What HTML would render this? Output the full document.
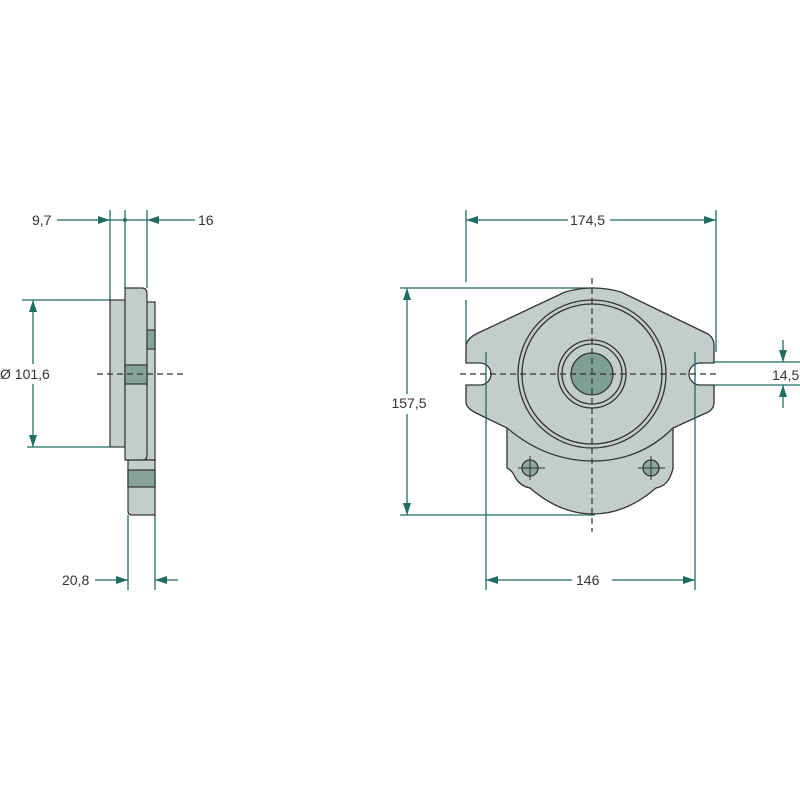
<!DOCTYPE html>
<html><head><meta charset="utf-8"><style>
html,body{margin:0;padding:0;background:#fff;}
svg{display:block;}
text{font-family:"Liberation Sans",sans-serif;font-size:14px;fill:#333;}
</style></head><body>
<svg width="800" height="800" viewBox="0 0 800 800" xmlns="http://www.w3.org/2000/svg">
<defs>
<marker id="a" markerWidth="12" markerHeight="8" refX="12" refY="4" orient="auto" markerUnits="userSpaceOnUse">
<path d="M0,0 L12,4 L0,8 Z" fill="#1f6e63"/></marker>
</defs>
<g stroke="#1f6e63" stroke-width="1.3" fill="none">
<line x1="110" y1="210" x2="110" y2="300"/>
<line x1="125" y1="210" x2="125" y2="288"/>
<line x1="147" y1="210" x2="147" y2="288"/>
<line x1="57" y1="220" x2="110" y2="220" marker-end="url(#a)"/>
<line x1="110" y1="220" x2="147" y2="220"/>
<line x1="195" y1="220" x2="147" y2="220" marker-end="url(#a)"/>
<line x1="22" y1="300" x2="110" y2="300"/>
<line x1="27" y1="447" x2="110" y2="447"/>
<line x1="33" y1="374" x2="33" y2="300" marker-end="url(#a)"/>
<line x1="33" y1="374" x2="33" y2="447" marker-end="url(#a)"/>
<line x1="128" y1="515" x2="128" y2="590"/>
<line x1="155" y1="515" x2="155" y2="590"/>
<line x1="95" y1="580" x2="128" y2="580" marker-end="url(#a)"/>
<line x1="178" y1="580" x2="155" y2="580" marker-end="url(#a)"/>
<line x1="466" y1="210" x2="466" y2="282"/>
<line x1="466" y1="300" x2="466" y2="345"/>
<line x1="716" y1="210" x2="716" y2="352"/>
<line x1="568" y1="220" x2="466" y2="220" marker-end="url(#a)"/>
<line x1="610" y1="220" x2="716" y2="220" marker-end="url(#a)"/>
<line x1="400" y1="288" x2="595" y2="288"/>
<line x1="400" y1="515" x2="595" y2="515"/>
<line x1="407" y1="400" x2="407" y2="288" marker-end="url(#a)"/>
<line x1="407" y1="400" x2="407" y2="515" marker-end="url(#a)"/>
<line x1="572" y1="580" x2="486" y2="580" marker-end="url(#a)"/>
<line x1="612" y1="580" x2="695" y2="580" marker-end="url(#a)"/>
<line x1="714" y1="362" x2="800" y2="362"/>
<line x1="714" y1="385" x2="800" y2="385"/>
<line x1="783" y1="340" x2="783" y2="362" marker-end="url(#a)"/>
<line x1="783" y1="408" x2="783" y2="385" marker-end="url(#a)"/>
</g>
<g fill="#1f6e63"><circle cx="125" cy="220" r="2"/></g>
<g stroke="#333" stroke-width="1.2">
<rect x="110" y="300" width="15" height="147" fill="#c3cdca"/>
<rect x="146" y="302" width="9" height="158" fill="#c3cdca"/>
<path d="M128,460 L155,460 L155,515 L132,515 Q128,515 128,511 Z" fill="#c3cdca"/>
<rect x="146" y="330" width="9" height="19" fill="#86a39b"/>
<rect x="128" y="470" width="27" height="17" fill="#86a39b"/>
<path d="M125,288 L142,288 Q147,288 147,294 L147,455 Q147,460 142,460 L125,460 Z" fill="#c3cdca"/>
<rect x="125" y="365" width="22" height="19" fill="#86a39b"/>
</g>
<line x1="97" y1="374" x2="185" y2="374" stroke="#333" stroke-width="1.2" stroke-dasharray="6,4"/>
<g stroke="#333" stroke-width="1.3">
<path d="M507,425 L507,468 Q512,470 515,477 Q520,486 530,488 Q560,514 593,514 Q626,514 656,488 Q666,486 670,477 Q673,470 673,468 L673,425 Z" fill="#c3cdca"/>
<path d="M466,345 Q468,338 476,334 L565,292 Q593,284 621,292 L708,334 Q714,338 714,345 L714,363 L700,363 A10.5,10.5 0 0 0 700,385 L714,385 L714,402 Q714,410 706,413 L673,428 Q640,461 593,461 Q546,461 507,428 L476,413 Q466,408 466,402 L466,385 L480,385 A10.5,10.5 0 0 0 480,363 L466,363 Z" fill="#c3cdca"/>
<circle cx="592" cy="374" r="74" fill="#c3cdca"/>
<circle cx="592" cy="374" r="70" fill="#c3cdca"/>
<circle cx="592" cy="374" r="34" fill="#c3cdca"/>
<circle cx="592" cy="374" r="30" fill="#c3cdca"/>
<circle cx="592" cy="374" r="21" fill="#7f9e96"/>
<circle cx="530" cy="468" r="8" fill="#8ea79f"/>
<circle cx="651" cy="468" r="8" fill="#8ea79f"/>
</g>
<g stroke="#1f6e63" stroke-width="1.3">
<line x1="486" y1="352" x2="486" y2="590"/>
<line x1="695" y1="352" x2="695" y2="590"/>
</g>
<g stroke="#333" stroke-width="1.2" stroke-dasharray="6,4">
<line x1="460" y1="374" x2="720" y2="374"/>
<line x1="592" y1="278" x2="592" y2="532"/>
</g>
<g stroke="#333" stroke-width="1">
<line x1="518" y1="468" x2="545" y2="468"/><line x1="530" y1="456" x2="530" y2="480"/>
<line x1="638" y1="468" x2="665" y2="468"/><line x1="651" y1="456" x2="651" y2="480"/>
</g>
<g fill="#fff">
<rect x="0" y="364" width="52" height="20"/>
<rect x="390" y="394" width="38" height="20"/>
<rect x="770" y="365" width="30" height="18"/>
</g>
<text x="32" y="225">9,7</text>
<text x="198" y="225">16</text>
<text x="0" y="379">Ø 101,6</text>
<text x="62" y="585">20,8</text>
<text x="570" y="225">174,5</text>
<text x="409" y="408" text-anchor="middle">157,5</text>
<text x="576" y="585">146</text>
<text x="772" y="380">14,5</text>
</svg>
</body></html>
